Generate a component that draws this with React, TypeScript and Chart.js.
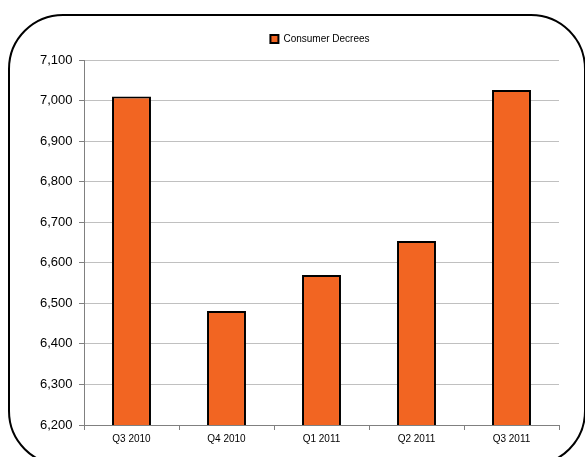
import React, { useEffect, useRef } from "react";
import { Chart, registerables } from "chart.js";

Chart.register(...registerables);

const categories = ["Q3 2010", "Q4 2010", "Q1 2011", "Q2 2011", "Q3 2011"];
const seriesName = "Consumer Decrees";
const seriesValues = [7010, 6481, 6570, 6654, 7026];
const yMin = 6200;
const yMax = 7100;
const yStep = 100;

const legendSpacer = {
  id: "legendSpacer",
  beforeLayout(chart: any) {
    const lg = chart.legend;
    if (lg && !lg._spaced) {
      const orig = lg.fit;
      lg.fit = function () {
        orig.call(this);
        this.height += 6;
      };
      lg._spaced = true;
    }
  },
};

export default function App() {
  const ref = useRef<HTMLCanvasElement | null>(null);

  useEffect(() => {
    if (!ref.current) return;
    const chart = new Chart(ref.current, {
      type: "bar",
      data: {
        labels: categories,
        datasets: [
          {
            label: seriesName,
            data: seriesValues,
            backgroundColor: "#F26522",
            borderColor: "#000000",
            borderWidth: 2,
            categoryPercentage: 1,
            barPercentage: 0.41,
          },
        ],
      },
      plugins: [legendSpacer],
      options: {
        animation: false,
        responsive: false,
        maintainAspectRatio: false,
        layout: { padding: { left: 81, right: 26, top: 18, bottom: 9 } },
        plugins: {
          tooltip: { enabled: false },
          legend: {
            display: true,
            position: "top",
            labels: {
              boxWidth: 8,
              boxHeight: 8,
              color: "#000",
              font: { family: "Liberation Sans, Arial, sans-serif", size: 10 },
              padding: 16,
            },
          },
        },
        scales: {
          x: {
            grid: {
              display: true,
              drawOnChartArea: false,
              drawTicks: true,
              tickLength: 5,
              tickColor: "#808080",
              offset: true,
            },
            border: { color: "#808080", width: 1 },
            ticks: {
              color: "#000",
              padding: 3,
              font: { family: "Liberation Sans, Arial, sans-serif", size: 10 },
            },
          },
          y: {
            min: yMin,
            max: yMax,
            afterFit: (scale: any) => {
              scale.width = 3;
            },
            grid: {
              color: "#c0c0c0",
              lineWidth: 1,
              tickLength: 5,
              tickColor: "#808080",
            },
            border: { color: "#808080", width: 1 },
            ticks: {
              stepSize: yStep,
              mirror: true,
              padding: -44,
              color: "#000",
              font: { family: "Liberation Sans, Arial, sans-serif", size: 13 },
              callback: (v: any) => Number(v).toLocaleString("en-US"),
            },
          },
        },
      },
    });
    return () => chart.destroy();
  }, []);

  return (
    <div style={{ position: "fixed", left: 0, top: 0, width: 585, height: 457, overflow: "hidden", background: "#fff" }}>
      <div
        style={{
          position: "absolute",
          left: 8,
          top: 14,
          width: 578,
          height: 452,
          border: "2px solid #000",
          borderRadius: 55,
          boxSizing: "border-box",
        }}
      />
      <canvas ref={ref} width={585} height={457} style={{ position: "absolute", left: 0, top: 0 }} />
    </div>
  );
}
